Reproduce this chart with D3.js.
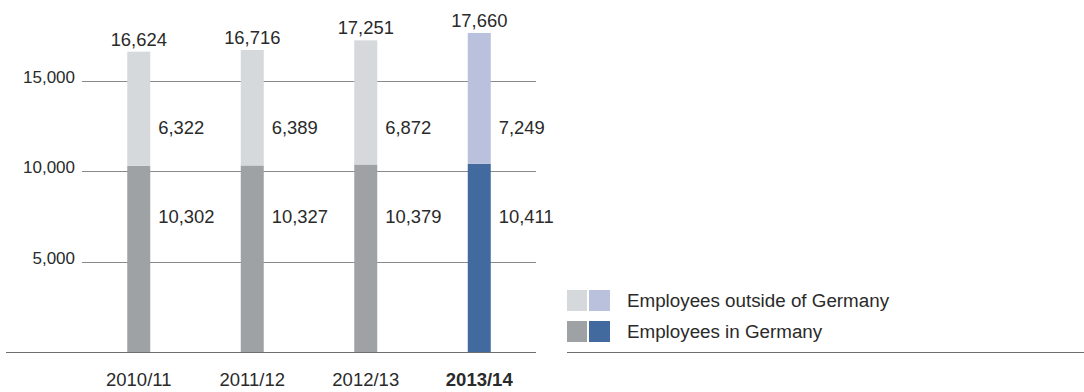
<!DOCTYPE html>
<html>
<head>
<meta charset="utf-8">
<script src="https://cdn.jsdelivr.net/npm/d3@7"></script>
<style>
  html, body { margin: 0; padding: 0; background: #fff; }
  svg { display: block; font-family: "Liberation Sans", Arial, Helvetica, sans-serif; }
</style>
</head>
<body>
<svg id="chart" width="1084" height="392"></svg>
<script>
// Fiscal years shown on the x axis
const years = ["2010/11", "2011/12", "2012/13", "2013/14"];
// Employees in Germany (lower segment)
const germany = [10302, 10327, 10379, 10411];
// Employees outside of Germany (upper segment)
const abroad = [6322, 6389, 6872, 7249];
// Totals printed above each bar
const totals = [16624, 16716, 17251, 17660];
// Y axis tick values
const yTicks = [5000, 10000, 15000];
// Legend entries
const legendLabels = ["Employees outside of Germany", "Employees in Germany"];

const colors = {
  germanyPast: "#9ea2a5",
  abroadPast: "#d5d9dc",
  germanyCurrent: "#426a9f",
  abroadCurrent: "#b9c1dc",
  grid: "#8a8a8a",
  axis: "#6f6f6f",
  text: "#2a2a2a"
};

const svg = d3.select("#chart");
const fmt = d3.format(",");

const x = d3.scalePoint().domain(years).range([82, 536]).padding(0.5);
const y = d3.scaleLinear().domain([0, 15000]).range([352, 81]);
const barW = 23;
const current = years[years.length - 1];

// Gridlines and tick labels
const grid = svg.append("g");
grid.selectAll("line").data(yTicks).join("line")
  .attr("x1", 82).attr("x2", 536)
  .attr("y1", d => Math.round(y(d)) + 0.5).attr("y2", d => Math.round(y(d)) + 0.5)
  .attr("stroke", colors.grid).attr("stroke-width", 1);
grid.selectAll("text").data(yTicks).join("text")
  .attr("x", 75).attr("y", d => y(d) + 2)
  .attr("text-anchor", "end")
  .attr("font-size", 17).attr("fill", colors.text)
  .text(d => fmt(d));

// Stacked bars
const rows = years.map((yr, i) => ({ yr, de: germany[i], ab: abroad[i], total: totals[i] }));
const bars = svg.append("g");
bars.selectAll("rect.de").data(rows).join("rect")
  .attr("class", "de")
  .attr("x", d => x(d.yr) - barW / 2).attr("width", barW)
  .attr("y", d => y(d.de)).attr("height", d => y(0) - y(d.de))
  .attr("fill", d => d.yr === current ? colors.germanyCurrent : colors.germanyPast);
bars.selectAll("rect.ab").data(rows).join("rect")
  .attr("class", "ab")
  .attr("x", d => x(d.yr) - barW / 2).attr("width", barW)
  .attr("y", d => y(d.de + d.ab)).attr("height", d => y(d.de) - y(d.de + d.ab))
  .attr("fill", d => d.yr === current ? colors.abroadCurrent : colors.abroadPast);

// Baseline
svg.append("line")
  .attr("x1", 6).attr("x2", 536).attr("y1", 352.5).attr("y2", 352.5)
  .attr("stroke", colors.axis).attr("stroke-width", 1.2);

// Total labels above the bars
svg.append("g").selectAll("text").data(rows).join("text")
  .attr("x", d => x(d.yr)).attr("y", d => y(d.total) - 6)
  .attr("text-anchor", "middle").attr("font-size", 18.4).attr("fill", colors.text)
  .text(d => fmt(d.total));

// Segment labels to the right of each bar
const labels = svg.append("g");
labels.selectAll("text.ab").data(rows).join("text")
  .attr("class", "ab")
  .attr("x", d => x(d.yr) + barW / 2 + 8).attr("y", 134)
  .attr("font-size", 18.4).attr("fill", colors.text)
  .text(d => fmt(d.ab));
labels.selectAll("text.de").data(rows).join("text")
  .attr("class", "de")
  .attr("x", d => x(d.yr) + barW / 2 + 8).attr("y", 223)
  .attr("font-size", 18.4).attr("fill", colors.text)
  .text(d => fmt(d.de));

// Category labels
svg.append("g").selectAll("text").data(years).join("text")
  .attr("x", d => x(d)).attr("y", 386)
  .attr("text-anchor", "middle").attr("font-size", 18.5).attr("fill", colors.text)
  .attr("font-weight", d => d === current ? "bold" : "normal")
  .text(d => d);

// Legend
const legend = svg.append("g");
const legendRows = [
  { label: legendLabels[0], c: [colors.abroadPast, colors.abroadCurrent], y: 290 },
  { label: legendLabels[1], c: [colors.germanyPast, colors.germanyCurrent], y: 321 }
];
legendRows.forEach(r => {
  legend.append("rect").attr("x", 567).attr("y", r.y).attr("width", 20).attr("height", 21).attr("fill", r.c[0]);
  legend.append("rect").attr("x", 589).attr("y", r.y).attr("width", 21).attr("height", 21).attr("fill", r.c[1]);
  legend.append("text").attr("x", 627).attr("y", r.y + 17)
    .attr("font-size", 18.8).attr("fill", colors.text).text(r.label);
});
legend.append("line")
  .attr("x1", 567).attr("x2", 1084).attr("y1", 352.5).attr("y2", 352.5)
  .attr("stroke", colors.axis).attr("stroke-width", 1.2);
</script>
</body>
</html>
